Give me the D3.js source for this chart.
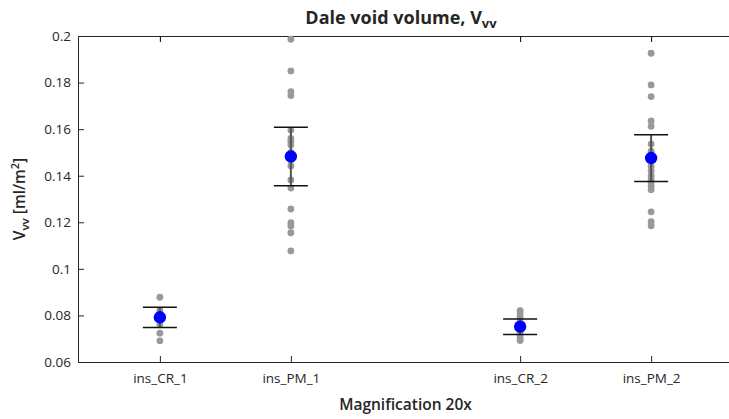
<!DOCTYPE html>
<html>
<head>
<meta charset="utf-8">
<script src="https://cdn.jsdelivr.net/npm/d3@7"></script>
<style>
  body { margin: 0; background: #fff; }
  text { font-family: "Open Sans", "Noto Sans", sans-serif; fill: #262626; }
</style>
</head>
<body>
<svg id="chart" width="729" height="419"></svg>
<script>
// categories and their x positions (gap between the two groups)
var groups = ["ins_CR_1", "ins_PM_1", "ins_CR_2", "ins_PM_2"];
var groupPos = [1, 2, 3.75, 4.75];

// individual measurements per group
var crOne = [0.0878, 0.0822, 0.0805, 0.0790, 0.0760, 0.0724, 0.0691];
var pmOne = [0.1986, 0.1850, 0.1761, 0.1744, 0.1596, 0.1560, 0.1546, 0.1532, 0.1500, 0.1465,
             0.1442, 0.1382, 0.1347, 0.1257, 0.1198, 0.1184, 0.1155, 0.1077];
var crTwo = [0.0820, 0.0808, 0.0795, 0.0780, 0.0760, 0.0745, 0.0730, 0.0712, 0.0700, 0.0692];
var pmTwo = [0.1926, 0.1790, 0.1740, 0.1635, 0.1612, 0.1536, 0.1505, 0.1440, 0.1420, 0.1400,
             0.1385, 0.1370, 0.1355, 0.1340, 0.1245, 0.1203, 0.1185];

// mean and confidence interval per group
var means = [0.0792, 0.1483, 0.0752, 0.1476];
var lower = [0.0748, 0.1357, 0.0718, 0.1375];
var upper = [0.0835, 0.1608, 0.0785, 0.1576];

var yTicks = [0.06, 0.08, 0.1, 0.12, 0.14, 0.16, 0.18, 0.2];

var svg = d3.select("#chart"),
	margin = {top: 36, left: 78, bottom: 362, right: 733};

var x = d3.scaleLinear()
	.domain([0.375, 5.375])
	.range([margin.left, margin.right]);

var y = d3.scaleLinear()
	.domain([0.06, 0.2])
	.range([margin.bottom, margin.top]);

var axisColor = "#262626";

// frame (top line; right edge is beyond the window)
svg.append("line")
	.attr("x1", margin.left).attr("x2", margin.right)
	.attr("y1", margin.top + 0.5).attr("y2", margin.top + 0.5)
	.attr("stroke", axisColor);

// y axis with inward ticks
var yAxis = svg.append("g")
	.attr("transform", `translate(${margin.left},0)`)
	.call(d3.axisLeft(y).tickValues(yTicks).tickSize(-6).tickSizeOuter(0).tickPadding(7)
		.tickFormat(d => d3.format("~g")(+d.toFixed(2))));

// x axis with inward ticks
var xAxis = svg.append("g")
	.attr("transform", `translate(0,${margin.bottom})`)
	.call(d3.axisBottom(x).tickValues(groupPos).tickSize(-6).tickSizeOuter(0).tickPadding(11)
		.tickFormat((d, i) => groups[i]));

// mirrored ticks on the top edge
svg.append("g")
	.attr("transform", `translate(0,${margin.top})`)
	.call(d3.axisTop(x).tickValues(groupPos).tickSize(-6).tickFormat(""))
	.select(".domain").remove();

[yAxis, xAxis].forEach(function(a) {
	a.selectAll("path, line").attr("stroke", axisColor);
	a.selectAll("text").attr("font-size", "13.5px").attr("fill", axisColor);
});

// points
var allPoints = [crOne, pmOne, crTwo, pmTwo];
allPoints.forEach(function(vals, i) {
	svg.append("g")
		.selectAll("circle")
		.data(vals)
		.enter()
		.append("circle")
		.attr("cx", x(groupPos[i]))
		.attr("cy", d => y(d))
		.attr("r", 3.4)
		.attr("fill", "#999999");
});

// error bars
var bars = svg.append("g");
groupPos.forEach(function(p, i) {
	var cx = x(p);
	bars.append("line")
		.attr("x1", cx).attr("x2", cx)
		.attr("y1", y(lower[i])).attr("y2", y(upper[i]))
		.attr("stroke", "#555").attr("stroke-width", 2);
	[lower[i], upper[i]].forEach(function(v) {
		bars.append("line")
			.attr("x1", cx - 17).attr("x2", cx + 17)
			.attr("y1", y(v)).attr("y2", y(v))
			.attr("stroke", "#111").attr("stroke-width", 1.5);
	});
});

// means
svg.append("g")
	.selectAll("circle")
	.data(means)
	.enter()
	.append("circle")
	.attr("cx", (d, i) => x(groupPos[i]))
	.attr("cy", d => y(d))
	.attr("r", 6.2)
	.attr("fill", "#0000ff");

//title
var title = svg.append("text")
	.attr("x", 401)
	.attr("y", 24)
	.attr("text-anchor", "middle")
	.attr("font-size", "18px")
	.attr("font-weight", "bold");
title.append("tspan").text("Dale void volume, V");
title.append("tspan").attr("font-size", "13px").attr("dy", 4).text("vv");

// x label
svg.append("text")
	.attr("x", x(2.875))
	.attr("y", 410)
	.attr("text-anchor", "middle")
	.attr("font-size", "15.5px")
	.attr("font-weight", 600)
	.text("Magnification 20x");

// y label
var ylab = svg.append("text")
	.attr("transform", `translate(25,${(margin.top + margin.bottom) / 2}) rotate(-90)`)
	.attr("text-anchor", "middle")
	.attr("font-size", "15.5px")
	.attr("font-weight", 600);
ylab.append("tspan").text("V");
ylab.append("tspan").attr("font-size", "11.5px").attr("dy", 4).text("vv");
ylab.append("tspan").attr("dy", -4).text(" [ml/m");
ylab.append("tspan").attr("font-size", "11px").attr("dy", -6).text("2");
ylab.append("tspan").attr("dy", 6).text("]");
</script>
</body>
</html>
